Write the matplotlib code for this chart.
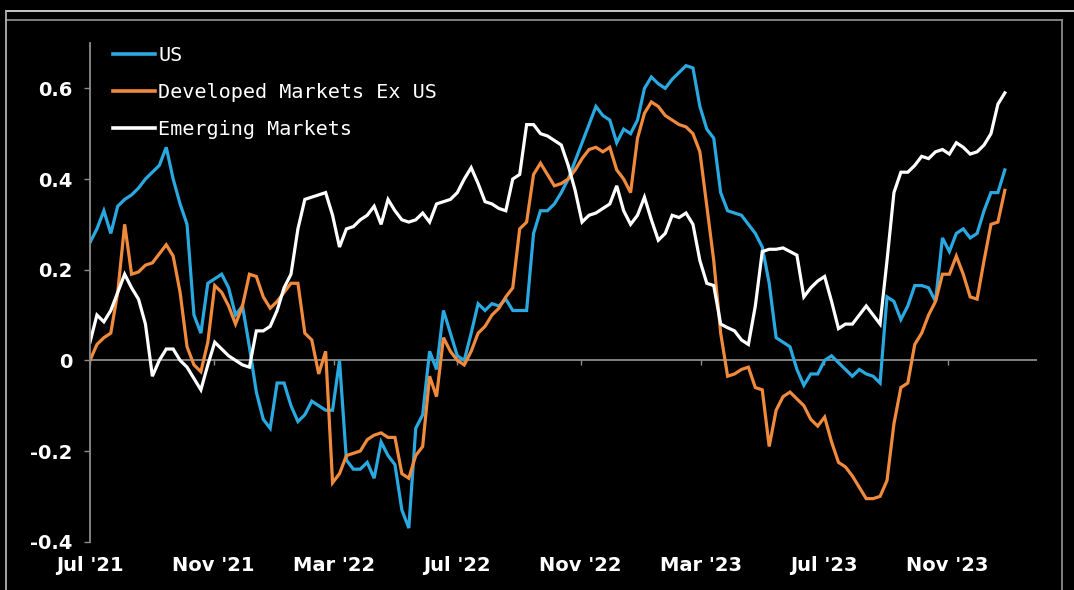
import numpy as np
import pandas as pd
import matplotlib
matplotlib.use("Agg")
import matplotlib.pyplot as plt
import matplotlib.dates as mdates
from matplotlib.lines import Line2D

# Weekly readings, Jul 2021 -> Dec 2023
dates = pd.date_range("2021-07-01", "2023-12-28", periods=133)

us = [0.26, 0.29, 0.33, 0.28, 0.34, 0.355, 0.365, 0.38, 0.40, 0.415,
      0.43, 0.47, 0.40, 0.345, 0.30, 0.10, 0.06, 0.17, 0.18, 0.19,
      0.16, 0.10, 0.12, 0.03, -0.07, -0.13, -0.15, -0.05, -0.05, -0.10,
      -0.135, -0.12, -0.09, -0.10, -0.11, -0.11, 0.0, -0.22, -0.24, -0.24,
      -0.225, -0.26, -0.18, -0.21, -0.23, -0.33, -0.37, -0.15, -0.12, 0.02,
      -0.02, 0.11, 0.06, 0.01, 0.0, 0.06, 0.125, 0.11, 0.125, 0.12,
      0.135, 0.11, 0.11, 0.11, 0.28, 0.33, 0.33, 0.345, 0.37, 0.40,
      0.44, 0.48, 0.52, 0.56, 0.54, 0.53, 0.48, 0.51, 0.50, 0.53,
      0.60, 0.625, 0.61, 0.60, 0.62, 0.635, 0.65, 0.645, 0.56, 0.51,
      0.49, 0.37, 0.33, 0.325, 0.32, 0.30, 0.28, 0.25, 0.17, 0.05,
      0.04, 0.03, -0.02, -0.055, -0.03, -0.03, 0.0, 0.01, -0.005, -0.02,
      -0.035, -0.02, -0.03, -0.035, -0.05, 0.14, 0.13, 0.09, 0.12, 0.165,
      0.165, 0.16, 0.13, 0.27, 0.24, 0.28, 0.29, 0.27, 0.28, 0.33,
      0.37, 0.37, 0.42]

dm_ex_us = [0.0, 0.035, 0.05, 0.06, 0.15, 0.30, 0.19, 0.195, 0.21, 0.215,
            0.235, 0.255, 0.23, 0.15, 0.03, -0.01, -0.025, 0.04, 0.165, 0.15,
            0.12, 0.08, 0.12, 0.19, 0.185, 0.14, 0.115, 0.13, 0.15, 0.17,
            0.17, 0.06, 0.045, -0.03, 0.02, -0.27, -0.25, -0.21, -0.205, -0.20,
            -0.175, -0.165, -0.16, -0.17, -0.17, -0.25, -0.26, -0.21, -0.19, -0.035,
            -0.08, 0.05, 0.02, 0.0, -0.01, 0.02, 0.06, 0.075, 0.10, 0.115,
            0.14, 0.16, 0.29, 0.305, 0.41, 0.435, 0.41, 0.385, 0.39, 0.40,
            0.42, 0.445, 0.465, 0.47, 0.46, 0.47, 0.42, 0.40, 0.37, 0.49,
            0.545, 0.57, 0.56, 0.54, 0.53, 0.52, 0.515, 0.50, 0.46, 0.34,
            0.22, 0.06, -0.035, -0.03, -0.02, -0.015, -0.06, -0.065, -0.19, -0.11,
            -0.08, -0.07, -0.085, -0.10, -0.13, -0.145, -0.125, -0.18, -0.225, -0.235,
            -0.255, -0.28, -0.305, -0.305, -0.30, -0.265, -0.14, -0.06, -0.05, 0.035,
            0.06, 0.10, 0.13, 0.19, 0.19, 0.23, 0.19, 0.14, 0.135, 0.22,
            0.30, 0.305, 0.375]

em = [0.04, 0.10, 0.085, 0.11, 0.15, 0.19, 0.16, 0.135, 0.08, -0.035,
      0.0, 0.025, 0.025, 0.0, -0.015, -0.04, -0.065, -0.01, 0.04, 0.025,
      0.01, 0.0, -0.01, -0.015, 0.065, 0.065, 0.075, 0.11, 0.16, 0.19,
      0.29, 0.355, 0.36, 0.365, 0.37, 0.32, 0.25, 0.29, 0.295, 0.31,
      0.32, 0.34, 0.30, 0.355, 0.33, 0.31, 0.305, 0.31, 0.325, 0.305,
      0.345, 0.35, 0.355, 0.37, 0.40, 0.425, 0.39, 0.35, 0.345, 0.335,
      0.33, 0.40, 0.41, 0.52, 0.52, 0.50, 0.495, 0.485, 0.475, 0.43,
      0.375, 0.305, 0.32, 0.325, 0.335, 0.345, 0.385, 0.33, 0.30, 0.32,
      0.36, 0.31, 0.265, 0.28, 0.32, 0.315, 0.325, 0.30, 0.22, 0.17,
      0.165, 0.08, 0.072, 0.065, 0.045, 0.035, 0.12, 0.24, 0.245, 0.245,
      0.248, 0.24, 0.232, 0.14, 0.16, 0.175, 0.185, 0.13, 0.07, 0.08,
      0.08, 0.10, 0.12, 0.10, 0.08, 0.22, 0.37, 0.415, 0.415, 0.43,
      0.45, 0.445, 0.46, 0.465, 0.455, 0.48, 0.47, 0.455, 0.46, 0.475,
      0.50, 0.565, 0.59]

series_names = ["US", "Developed Markets Ex US", "Emerging Markets"]
series_colors = ["#2aa8e0", "#f08a3c", "#ffffff"]
y_ticks = [-0.4, -0.2, 0, 0.2, 0.4, 0.6]
y_tick_labels = ["-0.4", "-0.2", "0", "0.2", "0.4", "0.6"]

W, H = 1074, 590
fig = plt.figure(figsize=(W / 100, H / 100), dpi=100, facecolor="black")
ax = fig.add_axes([90 / W, 1 - 541.7 / H, (1037 - 90) / W, (541.7 - 43) / H])
ax.set_facecolor("black")

for vals, name, col in zip([us, dm_ex_us, em], series_names, series_colors):
    ax.plot(dates, vals, color=col, lw=2.3, label=name, solid_joinstyle="miter")

ax.set_xlim(pd.Timestamp("2021-07-01"), pd.Timestamp("2024-01-29"))
ax.set_ylim(-0.4, 0.7)

# zero line with the month ticks sitting on it
ax.axhline(0, color="#8c8c8c", lw=1.3, zorder=0.5)
tick_dates = pd.date_range("2021-07-01", "2023-11-01", freq="4MS")
ax.vlines(tick_dates, -0.011, 0, color="#8c8c8c", lw=1.0, zorder=0.5)

for s in ["top", "right", "bottom"]:
    ax.spines[s].set_visible(False)
ax.spines["left"].set_color("#8c8c8c")
ax.spines["left"].set_linewidth(1.3)

ax.set_yticks(y_ticks)
ax.set_yticklabels(y_tick_labels)
ax.tick_params(axis="y", colors="#8c8c8c", length=4, width=1.0, pad=8.5,
               labelcolor="white", labelsize=14)
ax.xaxis.set_major_locator(mdates.MonthLocator(bymonth=[3, 7, 11]))
ax.xaxis.set_major_formatter(mdates.DateFormatter("%b '%y"))
ax.tick_params(axis="x", length=0, pad=10, labelcolor="white", labelsize=14)
for lab in ax.get_xticklabels() + ax.get_yticklabels():
    lab.set_fontweight("bold")
    lab.set_family("DejaVu Sans")

leg = ax.legend(loc="upper left", bbox_to_anchor=(113 / W, 1 - 46 / H),
                bbox_transform=fig.transFigure, frameon=False,
                borderpad=0, borderaxespad=0, handlelength=2.1,
                handletextpad=0.15, labelspacing=0.89,
                prop={"family": "DejaVu Sans Mono", "size": 14.5})
for t in leg.get_texts():
    t.set_color("white")
for h in leg.get_lines():
    h.set_linewidth(2.6)

# outer frame lines
def fline(x0, y0, x1, y1, col, lw):
    fig.add_artist(Line2D([x0 / W, x1 / W], [1 - y0 / H, 1 - y1 / H],
                          transform=fig.transFigure, color=col, lw=lw))

fline(6, 11.4, W, 11.4, "#d8d8d8", 1.3)
fline(6, 19.5, 1062, 19.5, "#8a8a8a", 1.3)
fline(6.2, 11, 6.2, H, "#b0b0b0", 1.3)
fline(1062, 19.5, 1062, H, "#8a8a8a", 1.3)

fig.savefig("out.png", dpi=100, facecolor="black")
